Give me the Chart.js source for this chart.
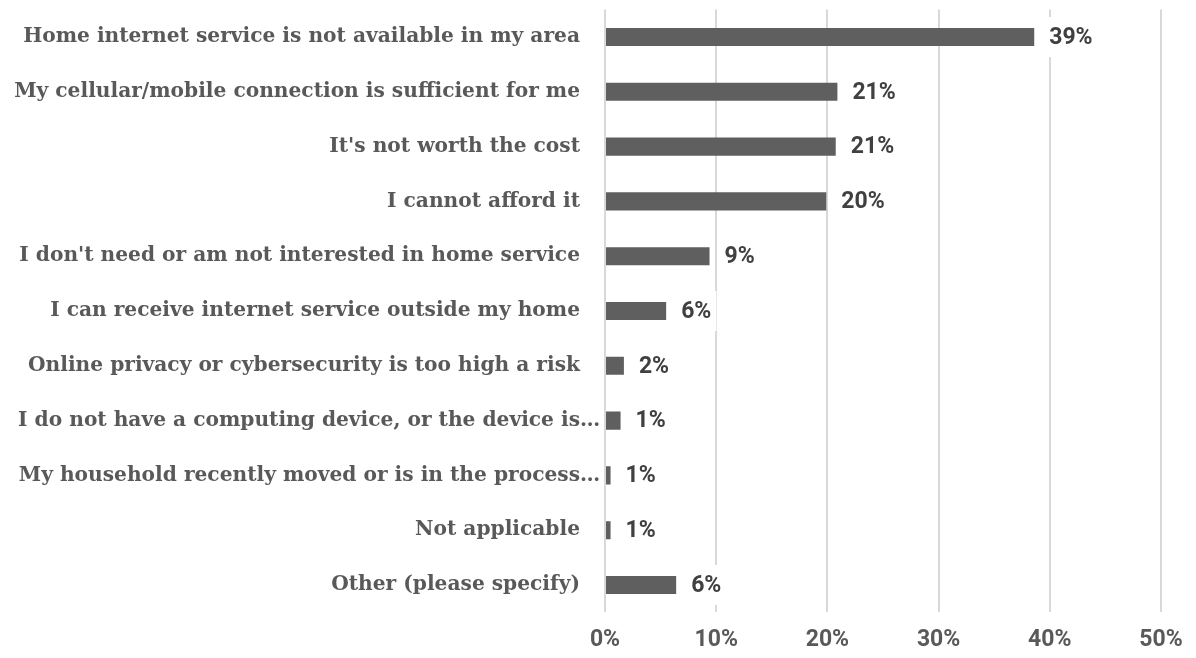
<!DOCTYPE html>
<html>
<head>
    <script src="https://cdn.jsdelivr.net/npm/chart.js@4.4.0/dist/chart.umd.min.js"></script>
    <title>Reasons for no home internet</title>
    <style>
        html, body { margin: 0; padding: 0; background: #ffffff; }
        #chart-area { width: 1196px; height: 658px; }
    </style>
</head>

<body>
<div id="chart-area">
    <canvas id="myChart"></canvas>
</div>

<script>
    // survey answers, top to bottom
    var reasons = [
        "Home internet service is not available in my area",
        "My cellular/mobile connection is sufficient for me",
        "It's not worth the cost",
        "I cannot afford it",
        "I don't need or am not interested in home service",
        "I can receive internet service outside my home",
        "Online privacy or cybersecurity is too high a risk",
        "I do not have a computing device, or the device is\u2026",
        "My household recently moved or is in the process\u2026",
        "Not applicable",
        "Other (please specify)"
    ];
    // share of respondents, in percent
    var shares = [38.6, 20.9, 20.75, 19.9, 9.4, 5.5, 1.7, 1.4, 0.5, 0.5, 6.4];
    // x axis range
    var axisMin = 0;
    var axisMax = 50;
    var axisStep = 10;

    var barColor = '#5f5f5f';
    var gridColor = '#d9d9d9';
    var ELLIPSIS = '\u2026';

    // percent labels at the end of each bar, on a white box so the grid lines break behind them
    var valueLabels = {
        id: 'valueLabels',
        afterDatasetsDraw: function (chart) {
            var ctx = chart.ctx;
            var meta = chart.getDatasetMeta(0);
            ctx.save();
            ctx.font = 'bold 23px Roboto';
            ctx.textBaseline = 'middle';
            ctx.textAlign = 'left';
            meta.data.forEach(function (bar, i) {
                var txt = Math.round(shares[i]) + '%';
                var x = bar.x + 15;
                var w = ctx.measureText(txt).width;
                ctx.fillStyle = '#ffffff';
                ctx.fillRect(x - 5, bar.y - 20, w + 10, 40);
                ctx.fillStyle = '#404040';
                ctx.fillText(txt, x, bar.y + 1);
            });
            ctx.restore();
        }
    };

    // category names, right aligned; a trailing ellipsis hangs past the alignment edge
    var categoryLabels = {
        id: 'categoryLabels',
        afterDraw: function (chart) {
            var ctx = chart.ctx;
            var y = chart.scales.y;
            var right = y.right - 25;
            ctx.save();
            ctx.font = 'bold 20.2px "DejaVu Serif"';
            ctx.fillStyle = '#595959';
            ctx.textBaseline = 'middle';
            ctx.textAlign = 'right';
            reasons.forEach(function (name, i) {
                var py = y.getPixelForTick(i);
                if (name.endsWith(ELLIPSIS)) {
                    var body = name.slice(0, -1);
                    ctx.fillText(body, right, py);
                    ctx.textAlign = 'left';
                    ctx.fillText(ELLIPSIS, right, py);
                    ctx.textAlign = 'right';
                } else {
                    ctx.fillText(name, right, py);
                }
            });
            ctx.restore();
        }
    };

    var ctx = document.getElementById('myChart').getContext('2d');
    var myChart = new Chart(ctx, {
        type: 'bar',
        data: {
            labels: reasons,
            datasets: [
                {
                    data: shares,
                    backgroundColor: barColor,
                    borderWidth: 0,
                    categoryPercentage: 1,
                    barPercentage: 0.33
                }
            ]
        },
        plugins: [valueLabels, categoryLabels],
        options: {
            indexAxis: 'y',
            responsive: true,
            maintainAspectRatio: false,
            animation: false,
            layout: {
                padding: { top: 9.6, right: 35, bottom: 0, left: 0 }
            },
            scales: {
                x: {
                    min: axisMin,
                    max: axisMax,
                    afterFit: function (scale) {
                        scale.height = 45.6;
                        scale.paddingLeft = 0;
                        scale.paddingRight = 0;
                    },
                    border: { display: false },
                    grid: { color: gridColor, lineWidth: 2, drawTicks: false },
                    ticks: {
                        stepSize: axisStep,
                        padding: 14,
                        color: '#595959',
                        font: { family: 'Roboto', weight: 'bold', size: 23 },
                        callback: function (v) { return v + '%'; }
                    }
                },
                y: {
                    afterFit: function (scale) {
                        scale.width = 605;
                        scale.paddingTop = 0;
                        scale.paddingBottom = 0;
                    },
                    border: { display: false },
                    grid: { display: false, drawTicks: false },
                    ticks: { display: false }
                }
            },
            plugins: {
                legend: { display: false },
                tooltip: { enabled: false }
            }
        }
    });
</script>

</body>
</html>
